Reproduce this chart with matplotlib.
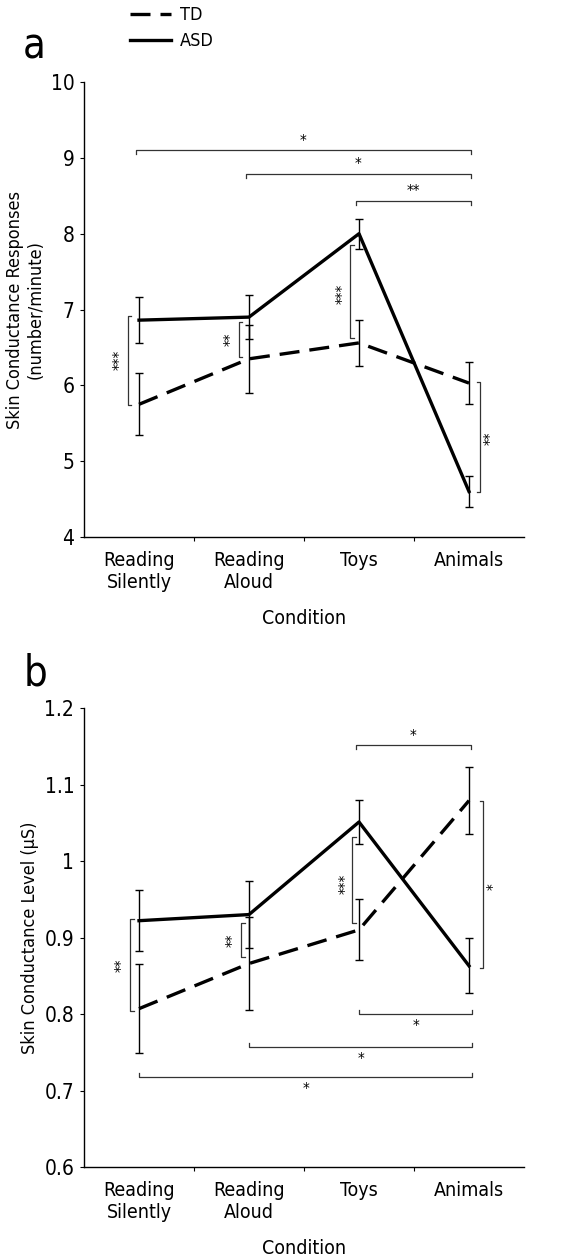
import numpy as np
import matplotlib.pyplot as plt

plt.rcParams['font.family'] = ['DejaVu Sans']
plt.rcParams['font.stretch'] = 'condensed'

# Data
conditions = ['Reading\nSilently', 'Reading\nAloud', 'Toys', 'Animals']

scr_td = [5.75, 6.35, 6.56, 6.03]
scr_td_err = [0.41, 0.45, 0.30, 0.28]
scr_asd = [6.86, 6.90, 8.00, 4.60]
scr_asd_err = [0.30, 0.29, 0.20, 0.20]

scl_td = [0.807, 0.866, 0.910, 1.079]
scl_td_err = [0.058, 0.061, 0.040, 0.044]
scl_asd = [0.922, 0.930, 1.051, 0.863]
scl_asd_err = [0.040, 0.044, 0.029, 0.036]

x = np.arange(len(conditions)) + 0.5

fig = plt.figure(figsize=(5.81, 12.58), dpi=100)
ax1 = fig.add_axes([0.1446, 0.5731, 0.7573, 0.3617])
ax2 = fig.add_axes([0.1446, 0.0723, 0.7573, 0.3649])


def style_axis(ax, ylim, yticks, yticklabels, ylabel):
    ax.set_xlim(0, 4)
    ax.set_ylim(*ylim)
    for s in ['top', 'right']:
        ax.spines[s].set_visible(False)
    ax.spines['left'].set_linewidth(1.0)
    ax.spines['bottom'].set_linewidth(1.0)
    ax.set_xticks([1, 2, 3])
    ax.set_xticklabels([])
    ax.set_xticks(x, minor=True)
    ax.set_xticklabels(conditions, minor=True, fontsize=14)
    ax.tick_params(axis='x', which='minor', length=0, pad=10)
    ax.tick_params(axis='x', which='major', length=3, direction='out')
    ax.set_yticks(yticks)
    ax.set_yticklabels(yticklabels, fontsize=15)
    ax.tick_params(axis='y', length=3, pad=4)
    ax.set_ylabel(ylabel, fontsize=13)
    ax.set_xlabel('Condition', fontsize=14, labelpad=12)


def hbracket(ax, x0, x1, y, h, label, dy):
    ax.plot([x0, x0, x1, x1], [y - h, y, y, y - h], color='#333333', lw=0.9)
    ax.text((x0 + x1) / 2, y + dy, label, ha='center', va='center', fontsize=11)


def vbracket(ax, xp, y0, y1, w, label, dx, ylab=None):
    ax.plot([xp + w, xp, xp, xp + w], [y0, y0, y1, y1], color='#333333', lw=0.9)
    if ylab is None:
        ylab = (y0 + y1) / 2
    ax.text(xp + dx, ylab, label, ha='center', va='center', rotation=90, fontsize=11)


# Panel a
l_td, = ax1.plot(x, scr_td, color='black', lw=2.4, ls=(0, (6, 3)), label='TD')
l_asd, = ax1.plot(x, scr_asd, color='black', lw=2.4, label='ASD')
ax1.errorbar(x, scr_td, yerr=scr_td_err, fmt='none', ecolor='black', elinewidth=1, capsize=3)
ax1.errorbar(x, scr_asd, yerr=scr_asd_err, fmt='none', ecolor='black', elinewidth=1, capsize=3)
style_axis(ax1, (4, 10), [4, 5, 6, 7, 8, 9, 10], ['4', '5', '6', '7', '8', '9', '10'],
           'Skin Conductance Responses\n(number/minute)')

hbracket(ax1, 0.47, 3.52, 9.1, 0.05, '*', 0.12)
hbracket(ax1, 1.47, 3.52, 8.79, 0.05, '*', 0.12)
hbracket(ax1, 2.47, 3.52, 8.43, 0.05, '**', 0.12)
vbracket(ax1, 0.4, 5.74, 6.92, 0.03, '***', -0.07)
vbracket(ax1, 1.41, 6.37, 6.84, 0.03, '**', -0.07)
vbracket(ax1, 2.42, 6.62, 7.85, 0.03, '***', -0.06, 7.2)
vbracket(ax1, 3.6, 4.6, 6.05, -0.03, '**', 0.1, 5.3)

# Panel b
ax2.plot(x, scl_td, color='black', lw=2.4, ls=(0, (6, 3)))
ax2.plot(x, scl_asd, color='black', lw=2.4)
ax2.errorbar(x, scl_td, yerr=scl_td_err, fmt='none', ecolor='black', elinewidth=1, capsize=3)
ax2.errorbar(x, scl_asd, yerr=scl_asd_err, fmt='none', ecolor='black', elinewidth=1, capsize=3)
style_axis(ax2, (0.6, 1.2), [0.6, 0.7, 0.8, 0.9, 1.0, 1.1, 1.2],
           ['0.6', '0.7', '0.8', '0.9', '1', '1.1', '1.2'],
           'Skin Conductance Level (µS)')

hbracket(ax2, 2.47, 3.52, 1.152, 0.005, '*', 0.011)
hbracket(ax2, 2.5, 3.53, 0.800, -0.005, '*', -0.016)
hbracket(ax2, 1.5, 3.53, 0.757, -0.005, '*', -0.016)
hbracket(ax2, 0.5, 3.53, 0.718, -0.005, '*', -0.016)
vbracket(ax2, 0.42, 0.804, 0.924, 0.03, '**', -0.07)
vbracket(ax2, 1.43, 0.874, 0.919, 0.03, '**', -0.07)
vbracket(ax2, 2.44, 0.919, 1.031, 0.03, '***', -0.06, 0.97)
vbracket(ax2, 3.63, 0.86, 1.078, -0.03, '*', 0.1, 0.966)

# Panel letters
fig.text(0.04, 0.963, 'a', fontsize=30, va='center')
fig.text(0.04, 0.465, 'b', fontsize=30, va='center')

# Legend
fig.legend(handles=[l_td, l_asd], loc='upper left', bbox_to_anchor=(0.195, 1.008),
           frameon=False, fontsize=13, handlelength=2.3, handletextpad=0.5,
           labelspacing=0.45)

fig.savefig('out.png', dpi=100)
